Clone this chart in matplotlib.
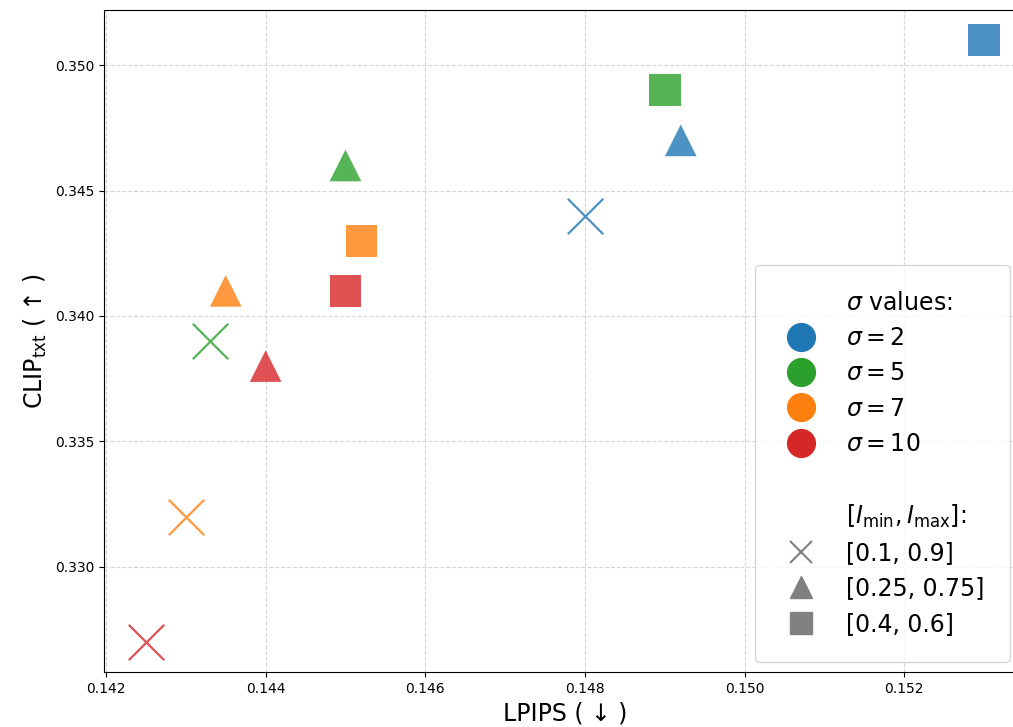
import matplotlib
matplotlib.use("Agg")
from matplotlib import pyplot as plt
from matplotlib.lines import Line2D

# data
sigmas = [2, 5, 7, 10]
colors = ["tab:blue", "tab:green", "tab:orange", "tab:red"]
ranges = ["[0.1, 0.9]", "[0.25, 0.75]", "[0.4, 0.6]"]
markers = ["x", "^", "s"]

# lpips / clip per sigma, ordered as ranges
lpips = {
    2: [0.1480, 0.1492, 0.1530],
    5: [0.1433, 0.1450, 0.1490],
    7: [0.1430, 0.1435, 0.1452],
    10: [0.1425, 0.1440, 0.1450],
}
clip = {
    2: [0.344, 0.347, 0.351],
    5: [0.339, 0.346, 0.349],
    7: [0.332, 0.341, 0.343],
    10: [0.327, 0.338, 0.341],
}

fig = plt.figure(figsize=(10.13, 7.27), dpi=100)
ax = fig.add_axes([104 / 1013, 55 / 727, 922 / 1013, 662 / 727])

for sigma, color in zip(sigmas, colors):
    for m, x, y in zip(markers, lpips[sigma], clip[sigma]):
        if m == "x":
            ax.scatter(x, y, marker=m, s=650, color=color, alpha=0.8, linewidths=1.6)
        else:
            ax.scatter(x, y, marker=m, s=520, color=color, alpha=0.8, edgecolors="none")

ax.set_xlim(0.141975, 0.153525)
ax.set_ylim(0.3258, 0.3522)
ax.set_xticks([0.142, 0.144, 0.146, 0.148, 0.150, 0.152])
ax.set_yticks([0.330, 0.335, 0.340, 0.345, 0.350])
ax.tick_params(labelsize=10)
ax.grid(True, linestyle="--", color="#cccccc", alpha=0.8)
ax.set_axisbelow(True)

ax.set_xlabel("LPIPS ( ↓ )", fontsize=17)
ax.set_ylabel(r"CLIP$_{\mathrm{txt}}$ ( ↑ )", fontsize=17)

blank = Line2D([], [], linestyle="none")
handles = [blank]
labels = [r"$\sigma$ values:"]
for sigma, color in zip(sigmas, colors):
    handles.append(Line2D([], [], linestyle="none", marker="o", markersize=20,
                          color=color))
    labels.append(rf"$\sigma = {sigma}$")
handles += [blank, blank]
labels += ["", r"$[I_{\min}, I_{\max}]$:"]
for m, r in zip(markers, ranges):
    if m == "x":
        h = Line2D([], [], linestyle="none", marker=m, markersize=16, color="gray",
                   markeredgewidth=1.5)
    else:
        h = Line2D([], [], linestyle="none", marker=m, markersize=16, color="gray")
    handles.append(h)
    labels.append(r)

fig.legend(handles, labels, loc="upper left", bbox_to_anchor=(0.745, 0.636),
           bbox_transform=fig.transFigure, borderaxespad=0, fontsize=17,
           frameon=True, borderpad=1.1, handlelength=1.7, handletextpad=1.05,
           labelspacing=0.48)

fig.savefig("out.png", dpi=100)
